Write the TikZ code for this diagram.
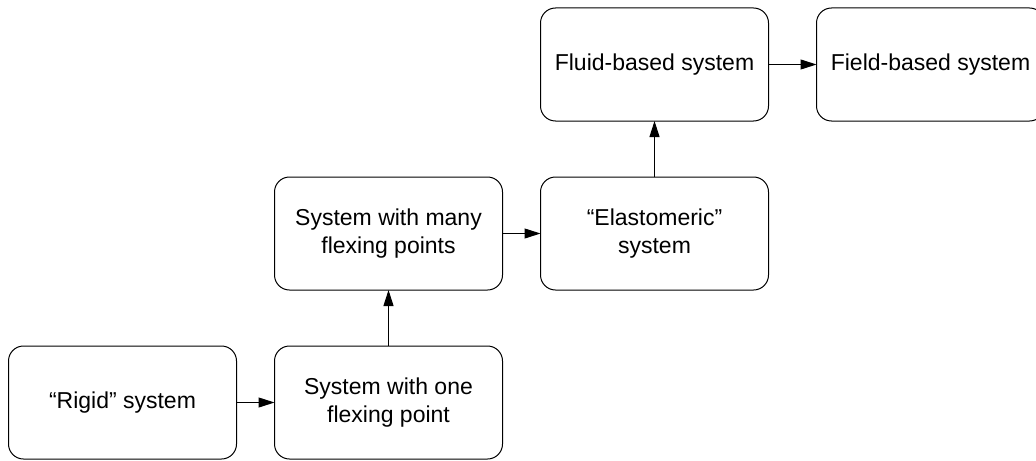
\documentclass[tikz,border=0pt]{standalone}
\usepackage{fontspec}
\setmainfont{Liberation Sans}
\usetikzlibrary{arrows.meta,positioning}
\begin{document}
\begin{tikzpicture}[
    x=0.5pt, y=-0.5pt,
    font=\fontsize{11.5}{14.3}\selectfont,
    stagebox/.style={
        draw=black,
        rounded corners=7.5pt,
        line width=0.5pt,
        minimum width=114pt,
        minimum height=56.5pt,
        align=center,
        inner sep=2pt,
        outer sep=0pt,
        text=black
    },
    arrow/.style={-{Triangle[length=8pt,width=5pt]}, line width=0.5pt, draw=black},
    node distance=28pt and 19pt
]
\useasboundingbox (0,0) rectangle (1036,460);
\clip (0,0) rectangle (1036,460);
\node[stagebox] (rigid) at (122.5,402.5) {“Rigid” system};
\node[stagebox, right=of rigid] (oneflex) {System with one\\flexing point};
\node[stagebox, above=of oneflex] (manyflex) {System with many\\flexing points};
\node[stagebox, right=of manyflex] (elasto) {“Elastomeric”\\system};
\node[stagebox, above=of elasto] (fluid) {Fluid-based system};
\node[stagebox, right=24pt of fluid] (field) {Field-based system};
\draw[arrow] (rigid) -- (oneflex);
\draw[arrow] (oneflex) -- (manyflex);
\draw[arrow] (manyflex) -- (elasto);
\draw[arrow] (elasto) -- (fluid);
\draw[arrow] (fluid) -- (field);
\end{tikzpicture}
\end{document}
